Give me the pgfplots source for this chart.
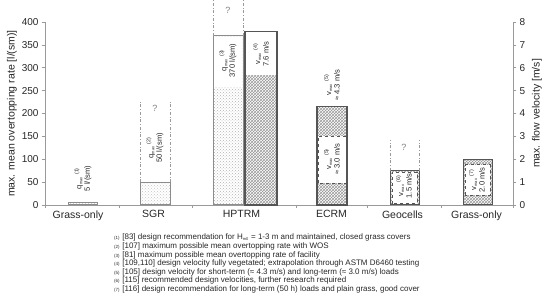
\documentclass[border=0pt]{standalone}
\usepackage{pgfplots}
\pgfplotsset{compat=1.18}
\usepackage{fontspec}
\setmainfont{Liberation Sans}
\usetikzlibrary{patterns}

\definecolor{axgray}{HTML}{9A9A9A}
\definecolor{qedge}{HTML}{8C8C8C}
\definecolor{vedge}{HTML}{555555}
\definecolor{txt}{HTML}{262626}

\newcommand{\sub}[1]{\textsubscript{\fontsize{4}{4.5}\selectfont #1}}
\newcommand{\fn}[1]{{\fontsize{4.5}{5}\selectfont(#1)}\,\,}

\begin{document}
\begin{tikzpicture}
\path[use as bounding box] (0,0) rectangle (550pt,307pt);

% left axis: overtopping rate, x in chart units
\begin{axis}[
    at={(45pt,102pt)}, anchor=south west,
    scale only axis, width=468pt, height=183pt,
    xmin=45, xmax=513, ymin=0, ymax=400,
    clip=false,
    axis x line*=bottom, axis y line*=left,
    axis line style={axgray, line width=0.6pt},
    every tick/.style={axgray, line width=0.6pt},
    tick align=outside, major tick length=3pt,
    xtick={45,119,192,296,367,441,513}, xticklabels={},
    extra x ticks={78,153.5,241.5,331.5,402.5,476.5},
    extra x tick labels={Grass-only,SGR,HPTRM,ECRM,Geocells,Grass-only},
    extra x tick style={major tick length=0pt, ticklabel style={font=\fontsize{10.5}{12}\selectfont, text=txt, yshift=-2pt}},
    ytick={0,50,...,400},
    yticklabel style={font=\fontsize{10}{12}\selectfont, text=txt},
    /pgf/number format/assume math mode=true,
    ylabel={max. mean overtopping rate [l/(sm)]},
    ylabel style={font=\fontsize{10.5}{12}\selectfont, text=txt, yshift=-2pt},
]
% Grass-only (q)
\addplot[draw=qedge, line width=1pt, pattern=crosshatch dots, pattern color=gray!45] coordinates {(69,0)(69,5)(98,5)(98,0)} -- cycle;
% SGR (q)
\addplot[draw=qedge, line width=1pt, pattern=crosshatch dots, pattern color=gray!45] coordinates {(140,0)(140,50)(170,50)(170,0)} -- cycle;
\addplot[axgray, line width=0.5pt, dash dot] coordinates {(140,50)(140,230)};
\addplot[axgray, line width=0.5pt, dash dot] coordinates {(170,50)(170,230)};
% HPTRM (q)
\addplot[draw=qedge, line width=1pt, pattern=crosshatch dots, pattern color=gray!60] coordinates {(213,0)(213,370)(243,370)(243,0)} -- cycle;
\addplot[draw=none, fill=white] coordinates {(214,258)(214,368)(242,368)(242,258)} -- cycle;
\addplot[axgray, line width=0.5pt, dash dot] coordinates {(213,370)(213,448)};
\addplot[axgray, line width=0.5pt, dash dot] coordinates {(243,370)(243,448)};
% HPTRM (v = 7.6 m/s -> 380)
\addplot[draw=vedge, line width=1.1pt, pattern=crosshatch, pattern color=gray!80] coordinates {(245,0)(245,380)(277,380)(277,0)} -- cycle;
\addplot[draw=none, fill=white] coordinates {(246,284)(246,378)(276,378)(276,284)} -- cycle;
% ECRM (v = 3.0 / 4.3 m/s)
\addplot[draw=vedge, line width=1.1pt, pattern=crosshatch, pattern color=gray!80] coordinates {(317,0)(317,215)(347,215)(347,0)} -- cycle;
\addplot[draw=vedge, line width=0.8pt, dashed, fill=white] coordinates {(318,48)(318,150)(346,150)(346,48)} -- cycle;
% Geocells (v = 1.5 m/s)
\addplot[draw=vedge, line width=1pt, pattern=crosshatch, pattern color=gray!80] coordinates {(390,0)(390,75)(419,75)(419,0)} -- cycle;
\addplot[draw=vedge, line width=0.6pt, dashed, fill=white] coordinates {(392,3)(392,72)(417,72)(417,3)} -- cycle;
\addplot[axgray, line width=0.5pt, dash dot] coordinates {(390,75)(390,142)};
\addplot[axgray, line width=0.5pt, dash dot] coordinates {(419,75)(419,142)};
% Grass-only (v = 2.0 m/s)
\addplot[draw=vedge, line width=1pt, pattern=crosshatch, pattern color=gray!80] coordinates {(463,0)(463,100)(492,100)(492,0)} -- cycle;
\addplot[draw=vedge, line width=0.6pt, dashed, fill=white] coordinates {(465,22)(465,88)(490,88)(490,22)} -- cycle;

% annotations
\begin{scope}[every node/.style={rotate=90, align=center, text=txt, font=\fontsize{7.6}{8.6}\selectfont}]
\node at (axis cs:83,58)  {q\sub{max} \textsuperscript{(1)}\\5 l/(sm)};
\node at (axis cs:155,125) {q\sub{max} \textsuperscript{(2)}\\50 l/(sm)};
\node at (axis cs:228,316) {q\sub{max} \textsuperscript{(3)}\\370 l/(sm)};
\node at (axis cs:261,330) {v\sub{max} \textsuperscript{(4)}\\7.6 m/s};
\node at (axis cs:332,100) {v\sub{max} \textsuperscript{(5)}\\≈ 3.0 m/s};
\node at (axis cs:332,262) {v\sub{max} \textsuperscript{(5)}\\≈ 4.3 m/s};
\node at (axis cs:404,42)  {v\sub{max} \textsuperscript{(6)}\\1.5 m/s};
\node at (axis cs:477,55)  {v\sub{max} \textsuperscript{(7)}\\2.0 m/s};
\end{scope}
\begin{scope}[every node/.style={text=gray, font=\fontsize{9}{10}\selectfont}]
\node at (axis cs:155,212) {?};
\node at (axis cs:228,426) {?};
\node at (axis cs:404,127) {?};
\end{scope}
\end{axis}

% right axis: flow velocity
\begin{axis}[
    at={(45pt,102pt)}, anchor=south west,
    scale only axis, width=468pt, height=183pt,
    xmin=45, xmax=513, ymin=0, ymax=8,
    axis x line=none, axis y line*=right,
    axis line style={axgray, line width=0.6pt},
    every tick/.style={axgray, line width=0.6pt},
    tick align=outside, major tick length=3pt,
    ytick={0,1,...,8},
    yticklabel style={font=\fontsize{10}{12}\selectfont, text=txt},
    /pgf/number format/assume math mode=true,
    ylabel={max. flow velocity [m/s]},
    ylabel style={font=\fontsize{10.5}{12}\selectfont, text=txt},
]
\end{axis}

% footnotes
\node[anchor=north west, align=left, inner sep=0pt, text=txt,
      font=\fontsize{8}{8.6}\selectfont] at (114pt,73pt) {%
\fn{1}[83] design recommendation for H\sub{m0} = 1-3 m and maintained, closed grass covers\\
\fn{2}[107] maximum possible mean overtopping rate with WOS\\
\fn{3}[81] maximum possible mean overtopping rate of facility\\
\fn{4}[109,110] design velocity fully vegetated; extrapolation through ASTM D6460 testing\\
\fn{5}[105] design velocity for short-term (≈ 4.3 m/s) and long-term (≈ 3.0 m/s) loads\\
\fn{6}[115] recommended design velocities, further research required\\
\fn{7}[116] design recommendation for long-term (50 h) loads and plain grass, good cover};
\end{tikzpicture}
\end{document}
